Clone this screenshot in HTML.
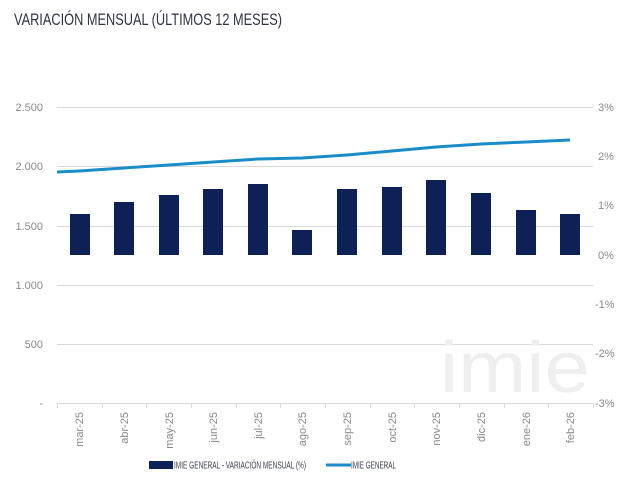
<!DOCTYPE html>
<html><head><meta charset="utf-8"><style>
body{margin:0;background:#fff;width:640px;height:484px;overflow:hidden}
svg{display:block;font-family:"Liberation Sans",sans-serif}
</style></head><body>
<svg width="640" height="484" viewBox="0 0 640 484">
<text x="14" y="25" font-size="17" fill="#2f3540" textLength="268" lengthAdjust="spacingAndGlyphs" font-family="Liberation Sans Narrow, Liberation Sans, sans-serif">VARIACIÓN MENSUAL (ÚLTIMOS 12 MESES)</text>
<g stroke="#d9d9d9" stroke-width="1">
<line x1="57" y1="107.5" x2="593" y2="107.5"/>
<line x1="57" y1="166.5" x2="593" y2="166.5"/>
<line x1="57" y1="226.5" x2="593" y2="226.5"/>
<line x1="57" y1="285.5" x2="593" y2="285.5"/>
<line x1="57" y1="344.5" x2="593" y2="344.5"/>
<line x1="57" y1="403.5" x2="593" y2="403.5"/>
</g>
<g stroke="#d9d9d9">
<line x1="57.5" y1="403" x2="57.5" y2="408"/><line x1="102.5" y1="403" x2="102.5" y2="408"/><line x1="146.5" y1="403" x2="146.5" y2="408"/><line x1="191.5" y1="403" x2="191.5" y2="408"/><line x1="236.5" y1="403" x2="236.5" y2="408"/><line x1="280.5" y1="403" x2="280.5" y2="408"/><line x1="325.5" y1="403" x2="325.5" y2="408"/><line x1="370.5" y1="403" x2="370.5" y2="408"/><line x1="414.5" y1="403" x2="414.5" y2="408"/><line x1="459.5" y1="403" x2="459.5" y2="408"/><line x1="504.5" y1="403" x2="504.5" y2="408"/><line x1="548.5" y1="403" x2="548.5" y2="408"/><line x1="593.5" y1="403" x2="593.5" y2="408"/>
</g>
<text x="515" y="392" font-size="72" fill="#efefef" font-family="Liberation Sans, sans-serif" text-anchor="middle" textLength="150" lengthAdjust="spacingAndGlyphs">imie</text>
<g font-size="11" fill="#8a8a8a" text-anchor="end">
<text x="43" y="111">2.500</text><text x="43" y="170">2.000</text><text x="43" y="230">1.500</text><text x="43" y="289">1.000</text><text x="43" y="348">500</text><text x="43" y="407">-</text>
</g>
<g font-size="11" fill="#8a8a8a" text-anchor="start">
<text x="598" y="111">3%</text><text x="598" y="160">2%</text><text x="598" y="209">1%</text><text x="598" y="259">0%</text><text x="595" y="308">-1%</text><text x="595" y="357">-2%</text><text x="595" y="407">-3%</text>
</g>
<g fill="#0d2157">
<rect x="70" y="214" width="20" height="41"/>
<rect x="114" y="202" width="20" height="53"/>
<rect x="159" y="195" width="20" height="60"/>
<rect x="203" y="189" width="20" height="66"/>
<rect x="248" y="184" width="20" height="71"/>
<rect x="292" y="230" width="20" height="25"/>
<rect x="337" y="189" width="20" height="66"/>
<rect x="382" y="187" width="20" height="68"/>
<rect x="426" y="180" width="20" height="75"/>
<rect x="471" y="193" width="20" height="62"/>
<rect x="516" y="210" width="20" height="45"/>
<rect x="560" y="214" width="20" height="41"/>
</g>
<polyline fill="none" stroke="#1a8cc8" stroke-width="3" points="57,172 79,171 124,168 169,165 213,162 258,159 302,158 347,155 392,151 436,147 481,144 526,142 570,140"/>
<g font-size="11" fill="#8a8a8a" text-anchor="end">
<text transform="translate(83,412) rotate(-90)">mar-25</text>
<text transform="translate(128,412) rotate(-90)">abr-25</text>
<text transform="translate(173,412) rotate(-90)">may-25</text>
<text transform="translate(217,412) rotate(-90)">jun-25</text>
<text transform="translate(262,412) rotate(-90)">jul-25</text>
<text transform="translate(306,412) rotate(-90)">ago-25</text>
<text transform="translate(351,412) rotate(-90)">sep-25</text>
<text transform="translate(396,412) rotate(-90)">oct-25</text>
<text transform="translate(440,412) rotate(-90)">nov-25</text>
<text transform="translate(485,412) rotate(-90)">dic-25</text>
<text transform="translate(530,412) rotate(-90)">ene-26</text>
<text transform="translate(574,412) rotate(-90)">feb-26</text>
</g>
<rect x="149" y="461" width="24" height="8" fill="#0d2157"/>
<text x="174" y="468.5" font-size="10" fill="#3a3f4a" textLength="132" lengthAdjust="spacingAndGlyphs">IMIE GENERAL - VARIACIÓN MENSUAL (%)</text>
<line x1="326" y1="465" x2="351" y2="465" stroke="#1a8cc8" stroke-width="3"/>
<text x="351" y="468.5" font-size="10" fill="#3a3f4a" textLength="45" lengthAdjust="spacingAndGlyphs">IMIE GENERAL</text>
</svg>
</body></html>
